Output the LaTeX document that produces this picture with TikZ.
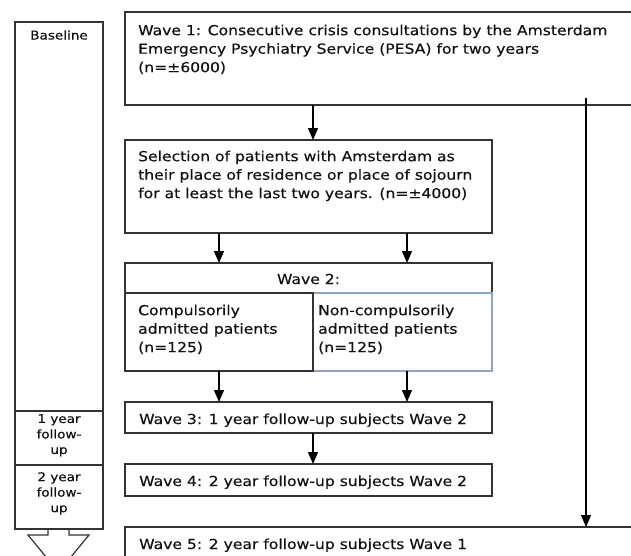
\documentclass[tikz,border=0pt]{standalone}
\usepackage{fontspec}
\setmainfont{DejaVu Sans}[FakeStretch=1.13,FakeBold=0.35]
\usetikzlibrary{arrows.meta}
\definecolor{ln}{HTML}{333333}
\definecolor{bl}{HTML}{8CA5CC}
\definecolor{tx}{HTML}{111111}
\begin{document}
\begin{tikzpicture}[x=1pt,y=-1pt,
 box/.style={draw=ln, line width=1.2pt, rectangle, inner sep=0pt, outer sep=0pt, anchor=north west},
 txt/.style={text=tx, font=\fontsize{13.8}{18.5}\selectfont, align=left, inner sep=0pt, anchor=north west},
 lbl/.style={text=tx, font=\fontsize{12}{15.5}\selectfont, align=center, inner sep=0pt},
 arr/.style={draw=black, line width=1.2pt, -{Triangle[width=10pt,length=12pt]}}]
\useasboundingbox (0,0) rectangle (631,555);
\clip (0,0) rectangle (631,555);
% left column
\node[box, minimum width=88pt, minimum height=389pt] (base) at (15,22) {};
\node[box, minimum width=88pt, minimum height=54pt] (fu1) at (15,411) {};
\node[box, minimum width=88pt, minimum height=64pt] (fu2) at (15,465) {};
\node[lbl, anchor=base] (tbase) at (59,39.5) {Baseline};
\node[lbl, anchor=north] (tfu1) at (59,414) {1 year\\follow-\\up};
\node[lbl, anchor=north] (tfu2) at (59,472) {2 year\\follow-\\up};
\draw[ln, line width=1.2pt, line join=miter] (48,529) -- (48,535) -- (28,535) -- (58.5,572) -- (89,535) -- (69,535) -- (69,529);
% main boxes
\node[box, minimum width=540pt, minimum height=93pt] (w1) at (125,12) {};
\node[txt] (tw1) at (138,24.5) {Wave 1: Consecutive crisis consultations by the Amsterdam\\Emergency Psychiatry Service (PESA) for two years\\(n=±6000)};
\node[box, minimum width=367pt, minimum height=93pt] (sel) at (125,140) {};
\node[txt] (tsel) at (138,150.5) {Selection of patients with Amsterdam as\\their place of residence or place of sojourn\\for at least the last two years. (n=±4000)};
\node[box, minimum width=367pt, minimum height=30pt] (w2h) at (125,263) {};
\node[txt, anchor=base] (tw2h) at (308.5,284) {Wave 2:};
\node[box, draw=bl, minimum width=179pt, minimum height=78pt] (w2r) at (313,293) {};
\node[box, minimum width=188pt, minimum height=78pt] (w2l) at (125,293) {};
\node[txt] (tw2l) at (138,304.5) {Compulsorily\\admitted patients\\(n=125)};
\node[txt] (tw2r) at (318,304.5) {Non-compulsorily\\admitted patients\\(n=125)};
\node[box, minimum width=367pt, minimum height=31pt] (w3) at (125,402) {};
\node[txt, anchor=base west] (tw3) at (139,424) {Wave 3: 1 year follow-up subjects Wave 2};
\node[box, minimum width=367pt, minimum height=32pt] (w4) at (125,464) {};
\node[txt, anchor=base west] (tw4) at (139,486) {Wave 4: 2 year follow-up subjects Wave 2};
\node[box, minimum width=540pt, minimum height=60pt] (w5) at (125,527) {};
\node[txt, anchor=base west] (tw5) at (139,549) {Wave 5: 2 year follow-up subjects Wave 1};
% connectors
\coordinate (rc) at ([xshift=4.5pt]w2r.center);
\coordinate (r0) at (586,98);
\draw[arr] (w1.south -| w2l.east) -- (sel.north -| w2l.east);
\draw[arr] (sel.south -| w2l.center) -- (w2h.north -| w2l.center);
\draw[arr] (sel.south -| rc) -- (w2h.north -| rc);
\draw[arr] (w2l.south -| w2l.center) -- (w3.north -| w2l.center);
\draw[arr] (w2r.south -| rc) -- (w3.north -| rc);
\draw[arr] (w3.south -| w2l.east) -- (w4.north -| w2l.east);
\draw[arr] (r0) -- (r0 |- w5.north);
\end{tikzpicture}
\end{document}
